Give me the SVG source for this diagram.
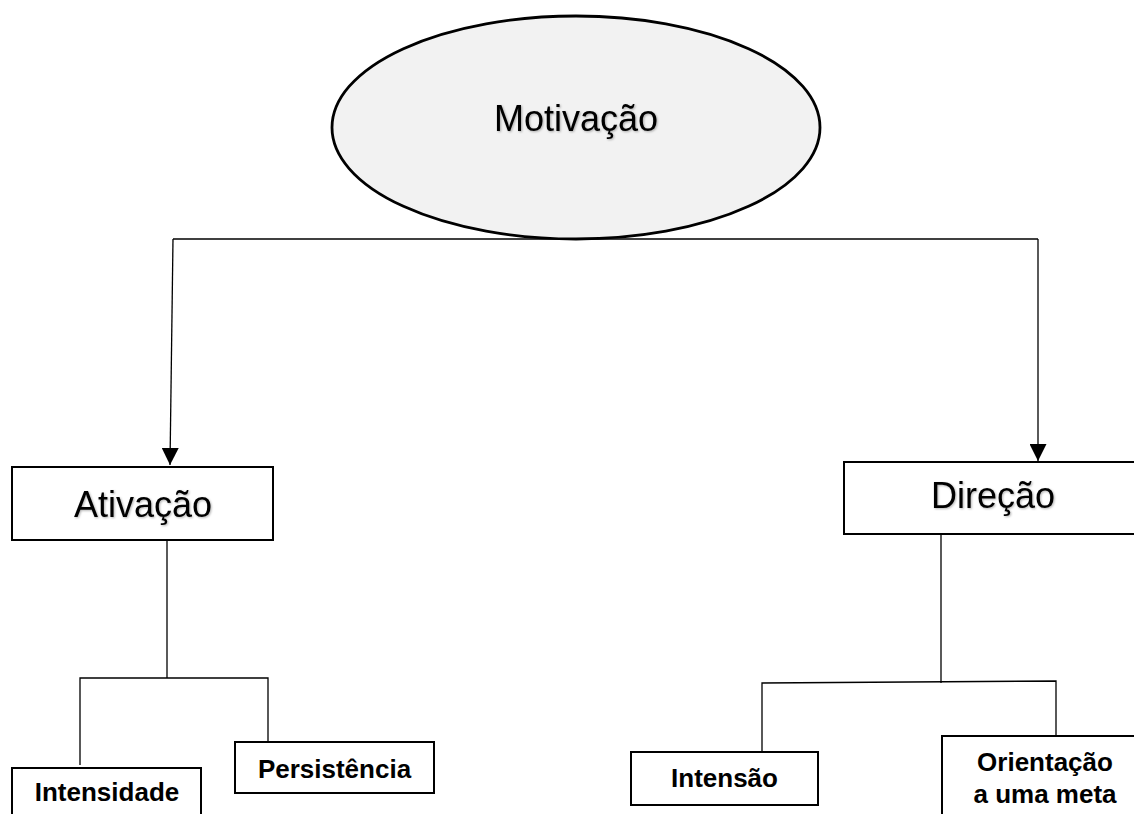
<svg xmlns="http://www.w3.org/2000/svg" width="1134" height="814" viewBox="0 0 1134 814">
  <style>
    .box { fill: #ffffff; stroke: #000000; stroke-width: 2; }
    .ell { fill: #f2f2f2; stroke: #000000; stroke-width: 2.8; }
    .line { fill: none; stroke: #000000; stroke-width: 1.3; }
    .big { font-family: "Liberation Sans", Arial, sans-serif; font-size: 36px; fill: #000000; text-anchor: middle; }
    .small { font-family: "Liberation Sans", Arial, sans-serif; font-size: 26px; font-weight: bold; fill: #000000; text-anchor: middle; }
  </style>
  <defs>
    <marker id="arrow" markerUnits="userSpaceOnUse" markerWidth="17" markerHeight="17" refX="17" refY="8.5" orient="auto">
      <path d="M0,0 L17,8.5 L0,17 Z" fill="#000000"/>
    </marker>
    <filter id="shadow" x="-10%" y="-20%" width="120%" height="140%">
      <feDropShadow dx="1" dy="1" stdDeviation="0.8" flood-color="#000000" flood-opacity="0.3"/>
    </filter>
  </defs>
  <rect width="1134" height="814" fill="#ffffff"/>

  <g id="connectors">
    <line class="line" x1="173" y1="239" x2="1038" y2="239"/>
    <line class="line" x1="173" y1="239" x2="170" y2="465" marker-end="url(#arrow)"/>
    <line class="line" x1="1038" y1="239" x2="1038" y2="461" marker-end="url(#arrow)"/>
    <polyline class="line" points="167,540 167,678"/>
    <polyline class="line" points="80,765 80,678 268,678 268,742"/>
    <polyline class="line" points="941,535 941,683"/>
    <polyline class="line" points="762,752 762,683 1056,681 1056,736"/>
  </g>

  <g id="motivacao">
    <ellipse class="ell" cx="576" cy="127.5" rx="244" ry="111.5"/>
    <text class="big" x="576" y="131" filter="url(#shadow)">Motivação</text>
  </g>

  <g id="ativacao">
    <rect class="box" x="12" y="467" width="261" height="73"/>
    <text class="big" x="143" y="517" filter="url(#shadow)">Ativação</text>
  </g>

  <g id="direcao">
    <rect class="box" x="844" y="462" width="300" height="72"/>
    <text class="big" x="993" y="508" filter="url(#shadow)">Direção</text>
  </g>

  <g id="intensidade">
    <rect class="box" x="12" y="768" width="189" height="60"/>
    <text class="small" x="107" y="801">Intensidade</text>
  </g>

  <g id="persistencia">
    <rect class="box" x="235" y="742" width="199" height="51"/>
    <text class="small" x="334.5" y="778">Persistência</text>
  </g>

  <g id="intensao">
    <rect class="box" x="631" y="752" width="187" height="53"/>
    <text class="small" x="724.5" y="787">Intensão</text>
  </g>

  <g id="orientacao">
    <rect class="box" x="942" y="736" width="210" height="100"/>
    <text class="small" x="1045" y="771">Orientação</text>
    <text class="small" x="1045" y="803">a uma meta</text>
  </g>
</svg>
